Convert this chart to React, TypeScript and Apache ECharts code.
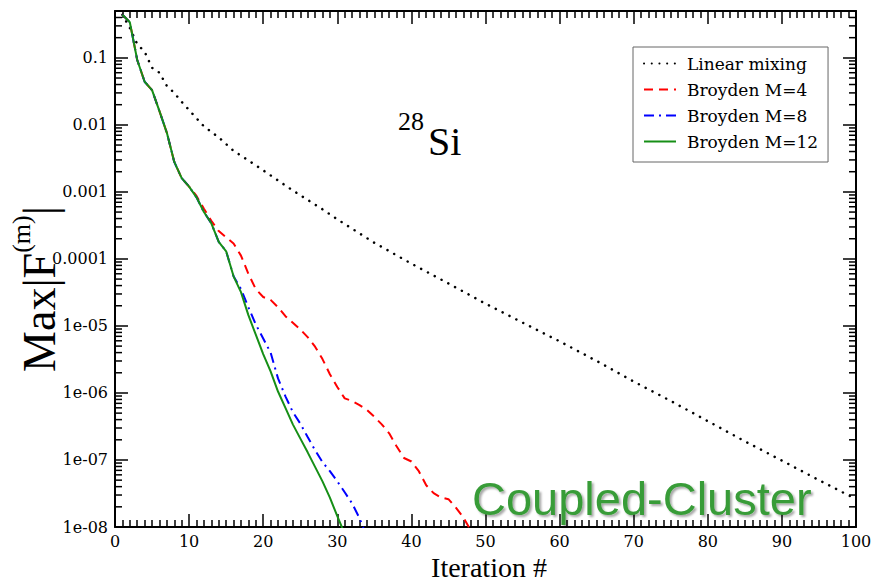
import React, { useEffect, useRef } from 'react';
import * as echarts from 'echarts';

// ---- data ----
const linearIter = [1, 2, 3, 4, 5, 6, 7, 8, 9, 10, 12, 14, 16, 18, 20, 22, 24, 26, 28, 30, 35, 40, 45, 50, 55, 60, 65, 70, 75, 80, 85, 90, 95, 100];
const linearVals = [0.44, 0.28, 0.16, 0.123, 0.071, 0.06, 0.038, 0.03, 0.022, 0.0166, 9.5e-3, 6.5e-3, 4.1e-3, 2.95e-3, 2.1e-3, 1.48e-3, 1.05e-3, 7.6e-4, 5.5e-4, 3.9e-4, 1.74e-4, 8.5e-5, 4.3e-5, 2.15e-5, 1.12e-5, 5.9e-6, 3.0e-6, 1.48e-6, 7.6e-7, 3.8e-7, 1.9e-7, 9.8e-8, 5.0e-8, 2.6e-8];

const broyden4Vals = [0.44, 0.34, 0.093, 0.044, 0.033, 0.016, 7.6e-3, 2.8e-3, 1.6e-3,
  1.2e-3, 8.7e-4, 5.6e-4, 3.7e-4, 2.6e-4, 2.1e-4, 1.7e-4, 1.12e-4, 6.0e-5, 3.55e-5,
  2.7e-5, 2.45e-5, 1.9e-5, 1.4e-5, 1.12e-5, 8.9e-6, 6.8e-6, 4.9e-6, 3.2e-6, 1.9e-6,
  1.23e-6, 8.3e-7, 7.6e-7, 6.6e-7, 5.6e-7, 4.4e-7, 3.4e-7, 2.5e-7, 1.6e-7, 1.07e-7,
  9.5e-8, 6.8e-8, 4.2e-8, 3.2e-8, 2.75e-8, 2.6e-8, 1.95e-8, 1.4e-8, 8.9e-9];

const broyden8Vals = [0.44, 0.34, 0.093, 0.044, 0.033, 0.016, 7.6e-3, 2.8e-3, 1.6e-3,
  1.2e-3, 8.3e-4, 5.0e-4, 3.4e-4, 1.8e-4, 1.3e-4, 5.5e-5,
  3.55e-5, 1.9e-5, 1.05e-5, 6.5e-6, 4.0e-6, 1.65e-6, 8.9e-7, 5.2e-7, 3.5e-7, 2.2e-7,
  1.4e-7, 9.3e-8, 6.8e-8, 4.8e-8, 3.3e-8, 2.25e-8, 1.35e-8, 7.1e-9];

const broyden12Vals = [0.44, 0.34, 0.093, 0.044, 0.033, 0.016, 7.6e-3, 2.8e-3, 1.6e-3,
  1.2e-3, 8.3e-4, 5.0e-4, 3.4e-4, 1.8e-4, 1.3e-4, 5.5e-5, 3.2e-5, 1.45e-5, 7.4e-6,
  3.8e-6, 2.1e-6, 1.05e-6, 6.0e-7, 3.4e-7, 2.1e-7, 1.3e-7, 7.9e-8, 4.8e-8, 2.75e-8,
  1.45e-8, 7.9e-9];

const seriesNames = ['Linear mixing', 'Broyden M=4', 'Broyden M=8', 'Broyden M=12'];

const yTickValues = [1e-8, 1e-7, 1e-6, 1e-5, 1e-4, 1e-3, 1e-2, 1e-1];
const yTickLabels = ['1e-08', '1e-07', '1e-06', '1e-05', '0.0001', '0.001', '0.01', '0.1'];

const yMinorMantissas = [2, 3, 4, 5, 6, 7, 8, 9];
const yDecades = [1e-8, 1e-7, 1e-6, 1e-5, 1e-4, 1e-3, 1e-2, 1e-1];

const SERIF = 'Liberation Serif';
const LABEL_SERIF = 'DejaVu Serif';
const SANS = 'Liberation Sans';

function pairs(vals: number[], start: number) {
  return vals.map((v, i) => [start + i, v]);
}

function yLabel(v: number) {
  for (let i = 0; i < yTickValues.length; i++) {
    if (Math.abs(Math.log10(v) - Math.log10(yTickValues[i])) < 0.01) return yTickLabels[i];
  }
  return '';
}

export default function App() {
  const ref = useRef<HTMLDivElement>(null);

  useEffect(() => {
    if (!ref.current) return;
    const chart = echarts.init(ref.current, undefined, { renderer: 'svg' });

    const minorTicks: number[][] = [];
    yDecades.forEach((d) => {
      yMinorMantissas.forEach((m) => {
        const v = d * m;
        if (v < 0.5) minorTicks.push([0, v]);
      });
    });

    const xAxisBase = {
      type: 'value',
      min: 0,
      max: 100,
      interval: 10,
      axisLine: { onZero: false, lineStyle: { color: '#000', width: 2 } },
      axisTick: { inside: true, length: 13, lineStyle: { color: '#000', width: 1.5 } },
      minorTick: { show: true, splitNumber: 10, length: 7, lineStyle: { color: '#000', width: 1.5 } },
      splitLine: { show: false },
      minorSplitLine: { show: false },
    };
    const yAxisBase = {
      type: 'log',
      logBase: 10,
      min: 1e-8,
      max: 0.5,
      splitNumber: 8,
      axisLine: { onZero: false, lineStyle: { color: '#000', width: 2 } },
      axisTick: { inside: true, length: 13, lineStyle: { color: '#000', width: 1.5 } },
      splitLine: { show: false },
      minorSplitLine: { show: false },
    };

    const option: any = {
      animation: false,
      backgroundColor: '#fff',
      textStyle: { fontFamily: LABEL_SERIF, color: '#000' },
      grid: { left: 115, right: 18, top: 11, bottom: 56, outerBoundsMode: 'none' },
      xAxis: [
        {
          ...xAxisBase,
          position: 'bottom',
          axisLabel: { fontFamily: LABEL_SERIF, fontSize: 16, lineHeight: 16, color: '#000', margin: 6 },
        },
        {
          ...xAxisBase,
          position: 'top',
          axisLabel: { show: false },
        },
      ],
      yAxis: [
        {
          ...yAxisBase,
          position: 'left',
          axisLabel: {
            fontFamily: LABEL_SERIF,
            fontSize: 16,
            color: '#000',
            margin: 7,
            formatter: (v: number) => yLabel(v),
          },
        },
        {
          ...yAxisBase,
          position: 'right',
          axisLabel: { show: false },
        },
      ],
      legend: {
        data: seriesNames,
        orient: 'vertical',
        left: 633,
        top: 47,
        itemWidth: 32,
        itemHeight: 16,
        itemGap: 9,
        padding: [8, 10, 12, 10],
        borderColor: '#666',
        borderWidth: 1,
        backgroundColor: '#fff',
        itemStyle: { opacity: 0 },
        textStyle: { fontFamily: LABEL_SERIF, fontSize: 17, lineHeight: 16, color: '#000', padding: [0, 0, 0, 6] },
      },
      graphic: [
        {
          type: 'text',
          x: 39,
          y: 289,
          rotation: Math.PI / 2,
          style: {
            text: '{a|Max|F}{b|(m)}{a||}',
            align: 'center',
            verticalAlign: 'middle',
            rich: {
              a: { fontFamily: SERIF, fontSize: 46, lineHeight: 62, fill: '#000' },
              b: { fontFamily: SERIF, fontSize: 26, lineHeight: 10, verticalAlign: 'top', fill: '#000' },
            },
          },
        },
        {
          type: 'text',
          x: 489,
          y: 567,
          style: { text: 'Iteration #', fontFamily: SERIF, fontSize: 28, lineHeight: 24, fill: '#000', align: 'center', verticalAlign: 'middle' },
        },
        {
          type: 'text',
          x: 398,
          y: 121,
          style: { text: '28', fontFamily: SERIF, fontSize: 26, fill: '#000', align: 'left', verticalAlign: 'middle' },
        },
        {
          type: 'text',
          x: 428,
          y: 141.5,
          style: { text: 'Si', fontFamily: SERIF, fontSize: 40, fill: '#000', align: 'left', verticalAlign: 'middle' },
        },
        {
          type: 'text',
          x: 472,
          y: 498.5,
          z: 100,
          style: {
            text: 'Coupled-Cluster',
            fontFamily: SANS,
            fontSize: 47,
            fill: '#389c38',
            align: 'left',
            verticalAlign: 'middle',
            textShadowColor: 'rgba(0,0,0,0.35)',
            textShadowOffsetX: 2,
            textShadowOffsetY: 2,
            textShadowBlur: 2,
          },
        },
      ],
      series: [
        {
          type: 'custom',
          name: 'yMinorTicks',
          xAxisIndex: 0,
          yAxisIndex: 0,
          silent: true,
          clip: false,
          data: minorTicks,
          renderItem: (_params: any, api: any) => {
            const v = api.value(1);
            const l = api.coord([0, v]);
            const r = api.coord([100, v]);
            return {
              type: 'group',
              children: [
                { type: 'line', shape: { x1: l[0], y1: l[1], x2: l[0] + 7, y2: l[1] }, style: { stroke: '#000', lineWidth: 1.5 } },
                { type: 'line', shape: { x1: r[0] - 7, y1: r[1], x2: r[0], y2: r[1] }, style: { stroke: '#000', lineWidth: 1.5 } },
              ],
            };
          },
        },
        {
          name: seriesNames[0],
          type: 'line',
          data: linearIter.map((it, i) => [it, linearVals[i]]),
          symbol: 'none',
          showSymbol: false,
          lineStyle: { color: '#000', width: 2.5, type: [0.1, 7.6], cap: 'round' },
          itemStyle: { color: '#000' },
        },
        {
          name: seriesNames[1],
          type: 'line',
          data: pairs(broyden4Vals, 1),
          symbol: 'none',
          showSymbol: false,
          lineStyle: { color: '#ff0000', width: 2, type: [9, 6] },
          itemStyle: { color: '#ff0000' },
        },
        {
          name: seriesNames[2],
          type: 'line',
          data: pairs(broyden8Vals, 1),
          symbol: 'none',
          showSymbol: false,
          lineStyle: { color: '#0000ff', width: 2, type: [10, 5, 2, 5] },
          itemStyle: { color: '#0000ff' },
        },
        {
          name: seriesNames[3],
          type: 'line',
          data: pairs(broyden12Vals, 1),
          symbol: 'none',
          showSymbol: false,
          lineStyle: { color: '#168f16', width: 2 },
          itemStyle: { color: '#168f16' },
        },
      ],
    };

    chart.setOption(option);
    return () => chart.dispose();
  }, []);

  return (
    <div
      ref={ref}
      style={{ position: 'fixed', left: 0, top: 0, width: 874, height: 583, background: '#fff' }}
    />
  );
}
